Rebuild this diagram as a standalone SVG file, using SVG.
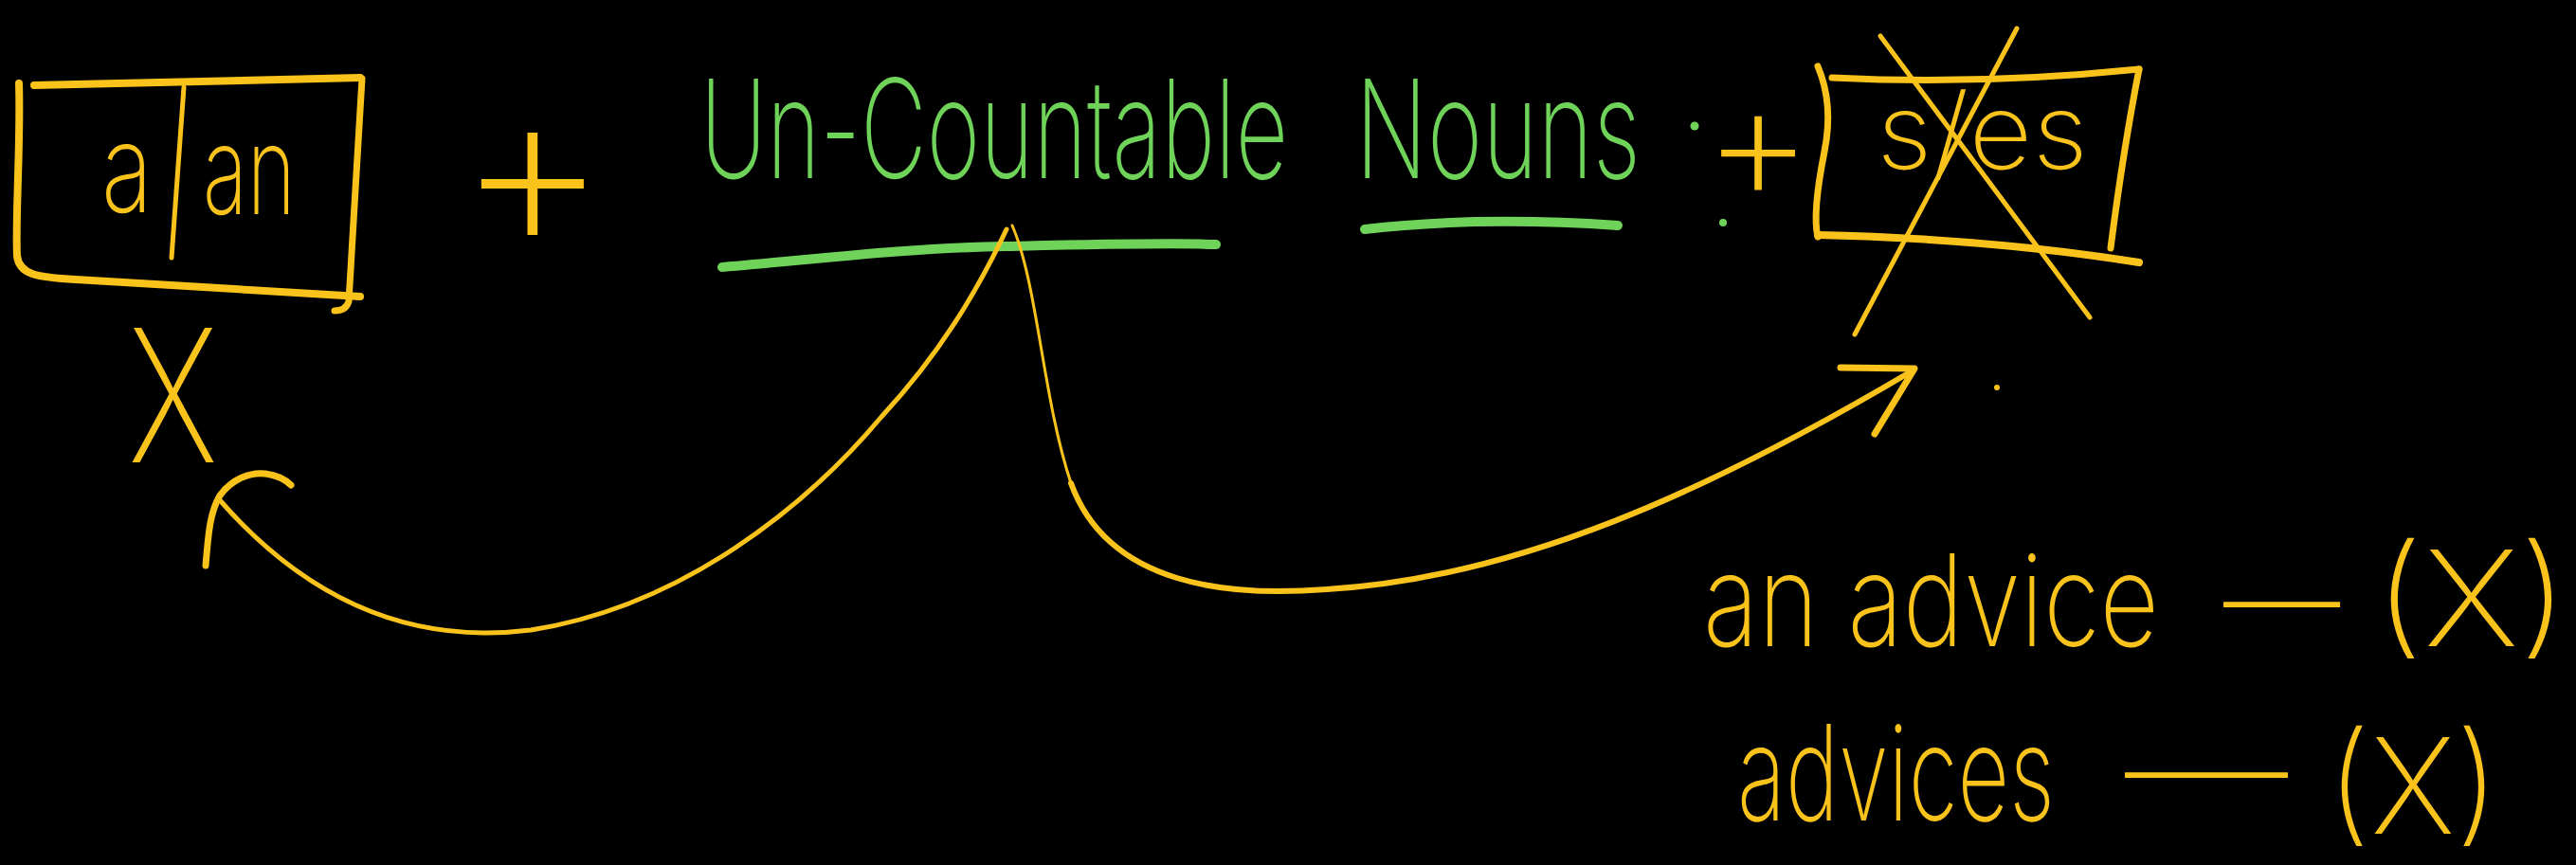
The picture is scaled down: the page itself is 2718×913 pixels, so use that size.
<svg xmlns="http://www.w3.org/2000/svg" width="2718" height="913" viewBox="0 0 2718 913">
  <style>
    .ink { fill: none; stroke: #f9c31c; stroke-linecap: round; stroke-linejoin: round; }
    .gink { fill: none; stroke: #6fd35a; stroke-linecap: round; stroke-linejoin: round; }
    .t { font-family: Inter, Roboto, "Liberation Sans", sans-serif; font-weight: 200; }
    .ty { fill: #f9c31c; }
    .tg { fill: #6fd35a; }
  </style>
  <rect x="0" y="0" width="2718" height="913" fill="#000"/>

  <g id="node-a-an">
    <path class="ink" stroke-width="8" d="M36,90 L380,82"/>
    <path class="ink" stroke-width="8" d="M20,88 C22,150 16,230 18,270 C20,290 40,293 80,295 L380,313"/>
    <path class="ink" stroke-width="7" d="M382,83 C378,150 372,250 368,318 C366,325 360,328 353,328"/>
    <path class="ink" stroke-width="5" d="M194,92 L181,272"/>
    <text class="t ty" x="107" y="224" font-size="130" textLength="54" lengthAdjust="spacingAndGlyphs">a</text>
    <text class="t ty" x="214" y="226" font-size="130" textLength="98" lengthAdjust="spacingAndGlyphs">an</text>
  </g>

  <g id="node-x-left">
    <text class="t ty" x="135" y="488" font-size="195" textLength="95" lengthAdjust="spacingAndGlyphs">X</text>
  </g>

  <g id="node-plus-1">
    <text class="t ty" x="562" y="265" font-size="250" text-anchor="middle">+</text>
  </g>

  <g id="node-uncountable">
    <text class="t tg" y="188" font-size="145"><tspan x="739" textLength="620" lengthAdjust="spacingAndGlyphs">Un-Countable</tspan> <tspan x="1430" textLength="301" lengthAdjust="spacingAndGlyphs">Nouns</tspan></text>
    <path class="gink" stroke-width="10" d="M762,282 C850,275 950,262 1060,260 C1150,258 1230,256 1283,258"/>
    <path class="gink" stroke-width="10" d="M1440,242 Q1560,228 1707,238"/>
    <circle cx="1788" cy="133" r="4.5" fill="#6fd35a"/>
    <circle cx="1818" cy="235" r="4" fill="#6fd35a"/>
  </g>

  <g id="node-plus-2">
    <text class="t ty" x="1855" y="213" font-size="180" text-anchor="middle">+</text>
  </g>

  <g id="node-s-es">
    <path class="ink" stroke-width="7" d="M1933,82 Q2090,90 2257,73"/>
    <path class="ink" stroke-width="7" d="M2257,73 Q2240,160 2227,262"/>
    <path class="ink" stroke-width="7" d="M1918,70 Q1935,110 1925,160 Q1912,225 1918,250"/>
    <path class="ink" stroke-width="8" d="M1918,248 Q2100,252 2257,277"/>
    <text class="t ty" x="1980" y="178" font-size="110" textLength="223" lengthAdjust="spacingAndGlyphs">s/es</text>
    <path class="ink" stroke-width="5" d="M1984,38 L2205,335"/>
    <path class="ink" stroke-width="5" d="M2128,30 L1957,353"/>
  </g>

  <g id="node-examples">
    <text class="t ty" x="1797" y="682" font-size="135" textLength="481" lengthAdjust="spacingAndGlyphs">an advice</text>
    <text class="t ty" y="682" font-size="140"><tspan x="2346" textLength="123" lengthAdjust="spacingAndGlyphs">—</tspan><tspan x="2505" textLength="205" lengthAdjust="spacingAndGlyphs">(X)</tspan></text>
    <text class="t ty" x="1833" y="866" font-size="140" textLength="335" lengthAdjust="spacingAndGlyphs">advices</text>
    <text class="t ty" y="880" font-size="140"><tspan x="2242" y="862" textLength="172" lengthAdjust="spacingAndGlyphs">—</tspan><tspan x="2455" y="880" textLength="182" lengthAdjust="spacingAndGlyphs">(X)</tspan></text>
  </g>

  <g id="connectors">
    <path class="ink" stroke-width="5" d="M1062,242 C1030,310 990,375 930,440 C850,535 720,640 560,665 C440,680 330,640 232,528"/>
    <path class="ink" stroke-width="7" d="M217,597 C220,560 222,540 232,523 C245,505 265,498 280,500 C295,502 303,508 307,512"/>
    <path class="ink" stroke-width="3" d="M1068,238 C1095,300 1100,420 1130,510"/>
    <path class="ink" stroke-width="6" d="M1130,510 C1170,620 1300,630 1400,622 C1600,610 1800,520 2015,393"/>
    <path class="ink" stroke-width="7" d="M1942,388 L2020,389 L1978,458"/>
    <circle cx="2107" cy="409" r="3" fill="#f9c31c"/>
  </g>
</svg>
